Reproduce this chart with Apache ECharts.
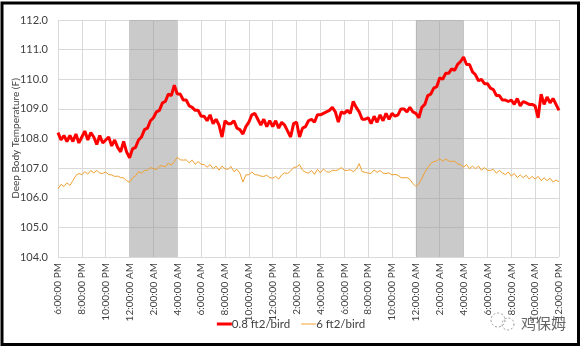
<!DOCTYPE html>
<html>
<head>
<meta charset="utf-8">
<script src="https://cdn.jsdelivr.net/npm/echarts@6/dist/echarts.min.js"></script>
<style>
html,body{margin:0;padding:0;background:#fff;}
#c{width:582px;height:347px;}
</style>
</head>
<body>
<div id="c"></div>
<script>
// Hours since 6:00 PM, sampled every 0.25 h (0 .. 42)
const tickLabels = ["6:00:00 PM","8:00:00 PM","10:00:00 PM","12:00:00 AM","2:00:00 AM","4:00:00 AM","6:00:00 AM","8:00:00 AM","10:00:00 AM","12:00:00 PM","2:00:00 PM","4:00:00 PM","6:00:00 PM","8:00:00 PM","10:00:00 PM","12:00:00 AM","2:00:00 AM","4:00:00 AM","6:00:00 AM","8:00:00 AM","10:00:00 AM","12:00:00 PM"];
const step = 0.25;
const seriesNames = ["0.8 ft2/bird", "6 ft2/bird"];
const darkPeriods = [[6, 10], [30, 34]];
const yTicks = [104, 112, 1];

const red = [
108.2,107.95,108.1,107.9, 108.1,107.9,108.15,107.85,
108.05,108.25,107.95,108.2, 108.05,107.8,108.1,107.85,
107.95,108.05,107.75,107.95, 107.7,107.55,107.9,107.55,
107.35,107.65,107.7,107.95, 108.05,108.3,108.35,108.6,
108.7,108.9,108.95,109.2, 109.25,109.5,109.45,109.8,
109.5,109.5,109.3,109.3, 109.1,109.05,108.95,108.95,
108.75,108.75,108.6,108.8, 108.5,108.65,108.45,108.05,
108.6,108.5,108.5,108.6, 108.35,108.3,108.15,108.4,
108.55,108.8,108.85,108.65, 108.45,108.65,108.4,108.6,
108.4,108.6,108.35,108.55, 108.45,108.25,108.05,108.5,
108.55,108.05,108.35,108.4, 108.6,108.65,108.55,108.8,
108.8,108.85,108.9,108.95, 109.05,108.9,108.55,108.9,
108.85,108.95,108.85,109.25, 109.05,108.9,108.65,108.65,
108.7,108.5,108.75,108.55, 108.8,108.6,108.85,108.65,
108.85,108.75,108.8,109.0, 109.0,108.9,109.05,108.9,
108.85,108.7,109.05,109.15, 109.45,109.5,109.7,109.75,
110.05,110.0,110.2,110.2, 110.35,110.3,110.5,110.6,
110.75,110.5,110.5,110.25, 110.15,109.95,110.0,109.85,
109.85,109.7,109.65,109.45, 109.45,109.3,109.3,109.25,
109.3,109.15,109.35,109.1, 109.25,109.2,109.15,109.15,
109.1,108.7,109.5,109.15, 109.4,109.2,109.35,109.15,
108.95
];

const orange = [
106.3,106.45,106.38,106.5, 106.42,106.58,106.75,106.82,
106.78,106.88,106.8,106.92, 106.84,106.92,106.83,106.82,
106.87,106.78,106.77,106.72, 106.73,106.68,106.67,106.58,
106.52,106.67,106.74,106.88, 106.83,106.92,106.93,107.02,
106.98,106.95,107.07,107.08, 107.04,107.17,107.1,107.22,
107.37,107.28,107.27,107.28, 107.18,107.27,107.13,107.22,
107.13,107.12,107.03,107.12, 106.98,107.07,106.93,107.07,
106.98,106.96,107.06,106.88, 106.96,106.83,106.53,106.77,
106.78,106.87,106.78,106.77, 106.73,106.72,106.76,106.68,
106.66,106.72,106.63,106.77, 106.84,106.82,106.9,107.02,
107.04,107.12,106.93,106.86, 106.83,106.92,106.79,106.96,
106.84,106.97,106.88,106.86, 106.93,106.92,106.94,107.02,
106.93,106.92,106.95,106.88, 106.96,107.15,106.88,106.86,
106.83,106.82,106.94,106.86, 106.92,106.83,106.82,106.84,
106.77,106.79,106.76,106.68, 106.67,106.68,106.62,106.48,
106.38,106.47,106.65,106.86, 107.02,107.15,107.22,107.24,
107.32,107.23,107.31,107.24, 107.22,107.24,107.14,107.12,
107.03,107.12,106.98,107.07, 106.98,107.07,106.93,107.02,
106.93,106.92,106.96,106.83, 106.92,106.84,106.78,106.87,
106.73,106.82,106.68,106.77, 106.68,106.76,106.63,106.72,
106.63,106.72,106.58,106.67, 106.58,106.66,106.53,106.6,
106.54
];

const toPairs = arr => arr.map((v, i) => [i * step, v]);
const FONT = 'Lato';

const chart = echarts.init(document.getElementById('c'), null, {renderer: 'canvas'});
chart.setOption({
  animation: false,
  backgroundColor: '#fff',
  textStyle: {fontFamily: FONT},
  grid: {left: 58, right: 23, top: 20, bottom: 90, containLabel: false, outerBoundsMode: 'none'},
  legend: {
    bottom: 12, left: 'center',
    itemWidth: 15, itemHeight: 3, itemGap: 11,
    textStyle: {fontFamily: FONT, fontSize: 11.5, color: '#404040', padding: [0,0,0,-5]},
    data: [
      {name: seriesNames[0], icon: 'rect'},
      {name: seriesNames[1], icon: 'path://M0,0H15V1H0Z'}
    ]
  },
  xAxis: {
    type: 'value', min: 0, max: 42, interval: 2,
    axisLine: {show: false},
    axisTick: {show: false},
    splitLine: {show: true, lineStyle: {color: '#d9d9d9', width: 1}},
    axisLabel: {
      rotate: 90, fontSize: 10, color: '#404040', fontFamily: FONT, margin: 6,
      formatter: v => tickLabels[Math.round(v / 2)] || ''
    }
  },
  yAxis: {
    type: 'value', min: yTicks[0], max: yTicks[1], interval: yTicks[2],
    name: 'Deep Body Temperature (F)', nameLocation: 'middle', nameGap: 37,
    nameMoveOverlap: false,
    nameTextStyle: {fontSize: 10, color: '#404040', fontFamily: FONT},
    axisLine: {show: false},
    axisTick: {show: false},
    splitLine: {show: true, lineStyle: {color: '#d9d9d9', width: 1}},
    axisLabel: {fontSize: 11, color: '#404040', fontFamily: FONT, margin: 10, formatter: v => v.toFixed(1)}
  },
  series: [
    {
      name: seriesNames[0], type: 'line', data: toPairs(red), showSymbol: false,
      lineStyle: {color: '#ff0000', width: 3}, itemStyle: {color: '#ff0000'}, z: 3
    },
    {
      name: seriesNames[1], type: 'line', data: toPairs(orange), showSymbol: false,
      lineStyle: {color: '#f0a030', width: 1}, itemStyle: {color: '#f0a030'}, z: 3
    },
    {
      name: 'dark', type: 'line', data: [], z: 5, silent: true,
      markArea: {
        silent: true,
        itemStyle: {color: 'rgba(150,150,150,0.5)'},
        data: darkPeriods.map(p => [{xAxis: p[0]}, {xAxis: p[1]}])
      }
    }
  ],
  graphic: [
    {type: 'rect', shape: {x: 2, y: 3, width: 576.5, height: 341.5},
     style: {fill: 'none', stroke: '#000', lineWidth: 3}, z: 100},
    {type: 'circle', shape: {cx: 498, cy: 320, r: 7}, style: {fill: 'none', stroke: '#999', lineWidth: 1, lineDash: [2,2]}, z: 100},
    {type: 'circle', shape: {cx: 508, cy: 324, r: 6}, style: {fill: 'none', stroke: '#999', lineWidth: 1, lineDash: [2,2]}, z: 100},
    {type: 'text', left: 521, top: 316, style: {text: '鸡保姆', fill: '#666', font: '15px "Noto Sans CJK SC"'}, z: 100}
  ]
});
</script>
</body>
</html>
